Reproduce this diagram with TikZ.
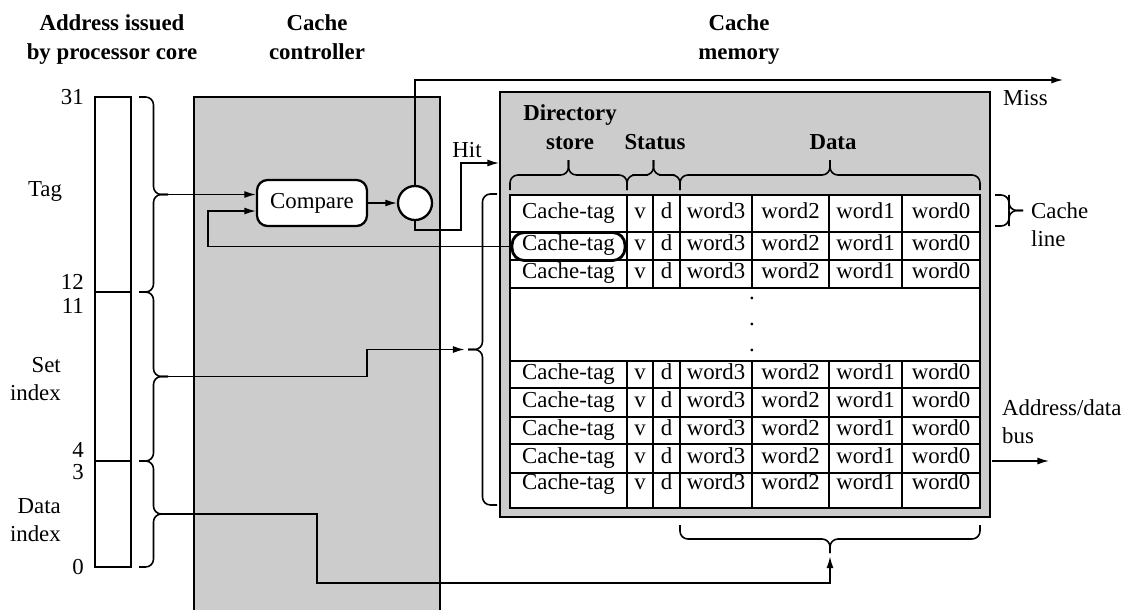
\documentclass[tikz,border=0pt]{standalone}
\usepackage{fontspec}
\setmainfont{Liberation Serif}
\usepackage{tikz}
\usetikzlibrary{arrows, arrows.meta, positioning, calc}

\newcommand{\vcurly}[3]{%
  \draw [curly] (#1) -| ($(#1)!.5!(#3)$) |- (#3);
  \draw [curly] (#2) -| ($(#2)!.5!(#3)$) |- (#3);}
\newcommand{\hcurly}[3]{%
  \draw [curly] (#1) |- ($(#1)!.5!(#3)$) -| (#3);
  \draw [curly] (#2) |- ($(#2)!.5!(#3)$) -| (#3);}

\begin{document}
\begin{tikzpicture}[x=0.02cm, y=-0.02cm, >={Latex[length=6.6pt, width=4pt]}, font=\fontsize{13}{16}\selectfont,
    wire/.style={line width=0.8pt},
    frame/.style={line width=1.3pt},
    grid/.style={line width=0.9pt},
    curly/.style={line width=0.9pt, rounded corners=4.5pt},
    head/.style={align=center, anchor=north, inner sep=0pt, font=\fontsize{13}{16.5}\selectfont\bfseries},
    colhead/.style={anchor=base, font=\fontsize{13}{16}\selectfont\bfseries},
    cell/.style={inner sep=0pt, text height=9pt, text depth=2.5pt}]
    \useasboundingbox (0,0) rectangle (1136,610);

    \node (hAddr) at (112,14) [head] {Address issued\\by processor core};
    \node (hCtrl) at (317,14) [head] {Cache\\controller};
    \node (hMem) at (739,14) [head] {Cache\\memory};

    \draw [frame] (95,97) rectangle (131,567);
    \draw [frame] (95,292) -- (131,292);
    \draw [frame] (95,461) -- (131,461);
    \node (b31) at (90,97) [anchor=east] {31};
    \node (b12) at (90,282) [anchor=east] {12};
    \node (b11) at (90,306) [anchor=east] {11};
    \node (b4) at (90,450) [anchor=east] {4};
    \node (b3) at (90,472) [anchor=east] {3};
    \node (b0) at (90,567) [anchor=east] {0};
    \node (fTag) at (45,191) {Tag};
    \node (fSet) at (67,379) [anchor=east, align=right] {Set\\index};
    \node (fData) at (67,520) [anchor=east, align=right] {Data\\index};

    \coordinate (tagTip) at (168,194.5);
    \coordinate (setTip) at (168,376.5);
    \coordinate (dataTip) at (168,514);
    \vcurly{139,97}{139,292}{tagTip}
    \vcurly{139,292}{139,461}{setTip}
    \vcurly{139,461}{139,567}{dataTip}

    \fill [gray!40] (194,97) rectangle (440,610);
    \draw [frame] (194,610) -- (194,97) -- (440,97) -- (440,610);

    \draw [frame, fill=gray!40] (500,92) rectangle (990,517);
    \draw [frame, fill=white] (510,195) rectangle (980,508);
    \foreach \y in {232,260,288,361,388,417,444,473}
        \draw [grid] (510,\y) -- (980,\y);
    \foreach \x in {627,653,680,752,829,902} {
        \draw [grid] (\x,195) -- (\x,288);
        \draw [grid] (\x,361) -- (\x,508);
    }
    \foreach \r/\y in {1/213,2/245,3/273,4/374,5/402,6/430,7/458,8/484} {
        \node (tag\r) at (568.5,\y) [cell] {Cache-tag};
        \node (v\r) at (640,\y) [cell] {v};
        \node (d\r) at (666.5,\y) [cell] {d};
        \node (wd3-\r) at (716,\y) [cell] {word3};
        \node (wd2-\r) at (790.5,\y) [cell] {word2};
        \node (wd1-\r) at (865.5,\y) [cell] {word1};
        \node (wd0-\r) at (941,\y) [cell] {word0};
    }
    \foreach \y [count=\i] in {299,325,351}
        \node (dot\i) at (752,\y) [anchor=base, inner sep=0pt] {.};
    \node (hitTag) at (568.5,246.5) [draw, line width=1.6pt, rounded corners=7pt, minimum width=2.26cm, minimum height=0.56cm] {};

    \node (hDir) at (570,120) [colhead] {Directory};
    \node (hStore) at (570,149) [colhead] {store};
    \node (hStatus) at (655,149) [colhead] {Status};
    \node (hData) at (833,149) [colhead] {Data};

    \coordinate (dirTip) at (568.5,160);
    \coordinate (statTip) at (653.5,160);
    \coordinate (dataColTip) at (830,160);
    \coordinate (wordTip) at (830,553);
    \coordinate (rowTip) at (468,349.5);
    \coordinate (lineTip) at (1023,210.5);
    \hcurly{510,190}{627,190}{dirTip}
    \hcurly{627,190}{680,190}{statTip}
    \hcurly{680,190}{980,190}{dataColTip}
    \hcurly{680,525}{980,525}{wordTip}
    \vcurly{497,194}{497,505}{rowTip}
    \vcurly{995,195}{995,226}{lineTip}
    \node (lLine) at (1025,225) [anchor=west, align=left] {Cache\\line};

    \node (cmp) at (312,203) [draw, line width=1.3pt, rounded corners=6pt, fill=white, minimum width=2.2cm, minimum height=0.92cm] {Compare};
    \node (match) at (415,203) [circle, draw, line width=1.3pt, fill=white, minimum size=0.68cm] {};

    \coordinate (loopBend) at (208,246.5);
    \coordinate (missEnd) at (1063,80);
    \coordinate (hitBend) at (461,230);
    \coordinate (hitEnd) at (499,163);
    \coordinate (setBend) at (367,349.5);
    \coordinate (dataBend) at (317,583);
    \coordinate (busStart) at (992,461);
    \coordinate (busEnd) at (1049,461);

    \draw [->, wire] (tagTip) -- (tagTip -| cmp.west);
    \draw [->, wire] (hitTag.west) -- (loopBend) |- ($(cmp.west)+(0,8)$);
    \draw [->, wire] (cmp) -- (match);
    \draw [->, wire] (match.north) |- (missEnd);
    \draw [->, wire] (match.south) |- (hitBend) |- (hitEnd);
    \draw [->, wire, shorten >=2pt] (setTip) -| (setBend) -- (rowTip);
    \draw [->, wire, shorten >=2pt] (dataTip) -| (dataBend) -| (wordTip);
    \draw [->, wire] (busStart) -- (busEnd);

    \node (lMiss) at (997,105) [anchor=base west] {Miss};
    \node (lHit) at (467,157) [anchor=base] {Hit};
    \node (lBus) at (996,422) [anchor=west, align=left] {Address/data\\bus};
\end{tikzpicture}
\end{document}
